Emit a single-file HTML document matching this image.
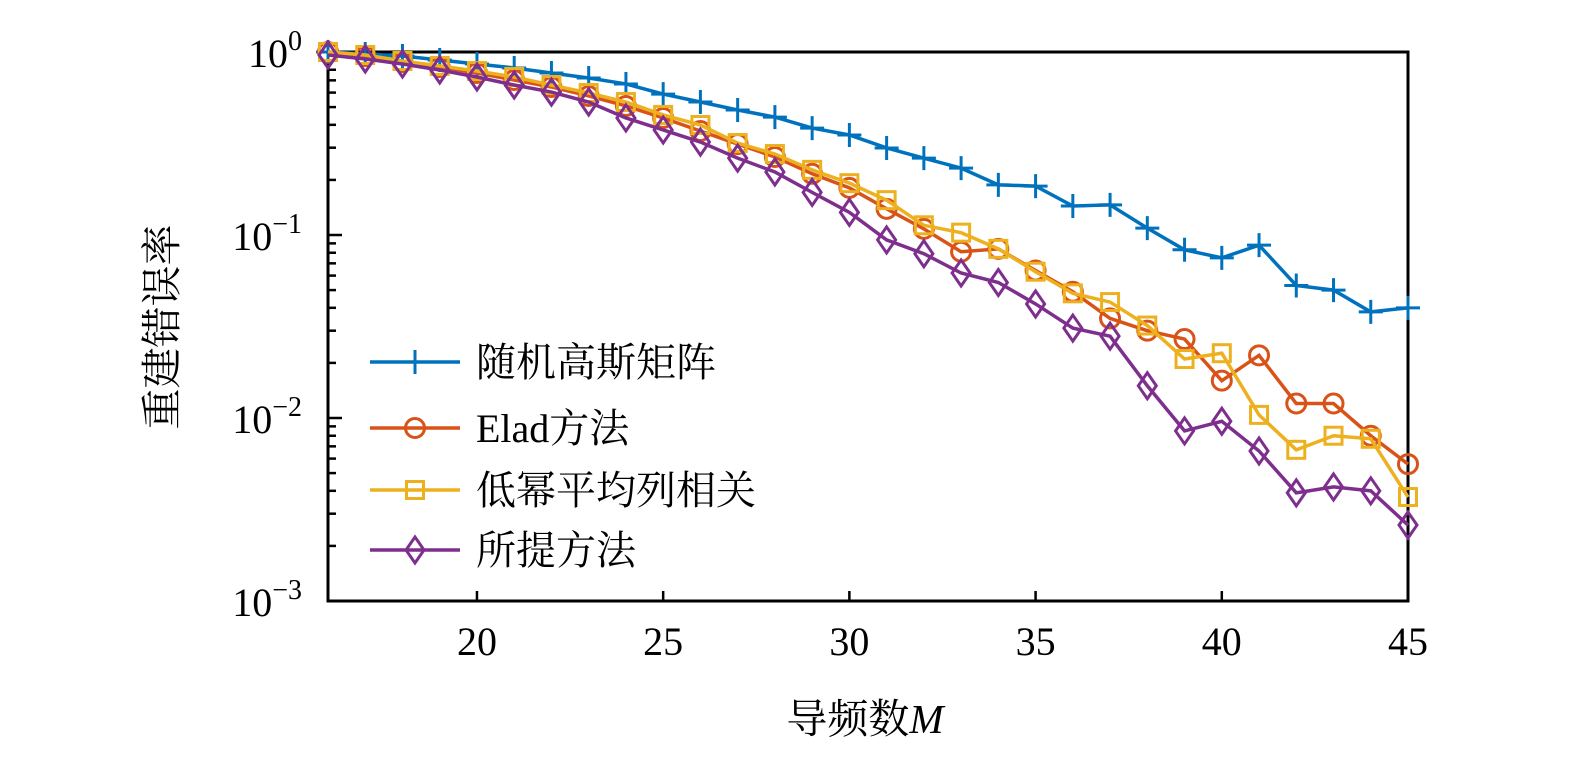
<!DOCTYPE html>
<html><head><meta charset="utf-8"><style>
html,body{margin:0;padding:0;background:#fff;width:1575px;height:768px;overflow:hidden}
svg{display:block}
text{font-family:"Liberation Serif","Noto Serif CJK SC",serif;fill:#000}
</style></head><body>
<svg id="chart" width="1575" height="768"></svg>
<script>
const categories=[16,17,18,19,20,21,22,23,24,25,26,27,28,29,30,31,32,33,34,35,36,37,38,39,40,41,42,43,44,45];
const randomGauss=[1,0.975,0.951,0.904,0.86,0.818,0.768,0.721,0.669,0.589,0.533,0.482,0.441,0.384,0.352,0.299,0.263,0.232,0.188,0.185,0.144,0.146,0.109,0.083,0.075,0.088,0.053,0.050,0.038,0.040];
const eladMethod=[1,0.951,0.882,0.828,0.768,0.703,0.644,0.575,0.507,0.436,0.37,0.314,0.267,0.216,0.181,0.139,0.108,0.081,0.084,0.064,0.049,0.035,0.030,0.027,0.016,0.022,0.012,0.012,0.008,0.0056];
const lowPowerCorr=[1,0.963,0.893,0.839,0.787,0.73,0.66,0.597,0.533,0.453,0.399,0.318,0.277,0.227,0.192,0.155,0.113,0.103,0.084,0.063,0.048,0.043,0.032,0.021,0.0226,0.0104,0.0067,0.008,0.0077,0.0037];
const proposed=[0.963,0.916,0.86,0.797,0.73,0.66,0.604,0.533,0.436,0.375,0.322,0.263,0.221,0.171,0.133,0.094,0.079,0.062,0.055,0.042,0.031,0.028,0.015,0.0085,0.0096,0.0066,0.0039,0.0042,0.0040,0.0026];
const xTicks=[20,25,30,35,40,45];
const yTickExps=[0,-1,-2,-3];
const legendLabels=["随机高斯矩阵","Elad方法","低幂平均列相关","所提方法"];

const L=328,R=1408,T=52,B=601;
const xs=v=>L+(v-16)*(R-L)/(45-16);
const ys=v=>T+(0-Math.log10(v))*(B-T)/3;
const svg=document.getElementById('chart');
const NS='http://www.w3.org/2000/svg';
function mk(tag,attrs,parent){const e=document.createElementNS(NS,tag);for(const k in attrs)e.setAttribute(k,attrs[k]);(parent||svg).appendChild(e);return e;}

const axes=mk('g',{});


xTicks.forEach(t=>{
  const x=xs(t);
  const tk=mk('path',{d:`M${x},${B}V${B-10}`,stroke:'#000','stroke-width':2.5},axes);
  
  
  const lb=mk('text',{x:x,y:655,'font-size':40,'text-anchor':'middle'},axes);
  lb.textContent=t;
  
  
});
yTickExps.forEach(e=>{
  const y=ys(Math.pow(10,e));
  const tk=mk('path',{d:`M${L},${y}H${L+14}`,stroke:'#000','stroke-width':2.5},axes);
  
  
  const lb=mk('text',{x:302,y:y+15,'font-size':40,'text-anchor':'end'},axes);
  
  
  lb.innerHTML=`10<tspan dy="-17" font-size="28">${e===0?'0':'−'+(-e)}</tspan>`;
  if(e>-3){for(let m=2;m<=9;m++){const yy=ys(m*Math.pow(10,e-1));
    const mt=mk('path',{d:`M${L},${yy}H${L+8}`,stroke:'#000','stroke-width':2.5},axes);
    
    }}
});
const frame=mk('rect',{x:L,y:T,width:R-L,height:B-T,fill:'none',stroke:'#000','stroke-width':3},axes);



const clip=mk('clipPath',{id:'cp'});mk('rect',{x:L-20,y:T-20,width:R-L+40,height:B-T+40},clip);

function marker(type,x,y,c,g){
  let e;
  if(type==='plus')e=mk('path',{d:`M${x-12},${y}H${x+12}M${x},${y-12}V${y+12}`,stroke:c,'stroke-width':3,fill:'none'},g);
  else if(type==='circle')e=mk('circle',{cx:x,cy:y,r:9.5,stroke:c,'stroke-width':3,fill:'none'},g);
  else if(type==='square')e=mk('rect',{x:x-8.5,y:y-8.5,width:17,height:17,stroke:c,'stroke-width':3,fill:'none'},g);
  else e=mk('path',{d:`M${x},${y-13}L${x+9},${y}L${x},${y+13}L${x-9},${y}Z`,stroke:c,'stroke-width':3,fill:'none'},g);
  
  
}
const series=[[randomGauss,'#0072BD','plus','series-random-gauss'],[eladMethod,'#D95319','circle','series-elad'],[lowPowerCorr,'#EDB120','square','series-low-power-corr'],[proposed,'#7E2F8E','diamond','series-proposed']];
series.forEach(([d,c,m,n])=>{
  const g=mk('g',{'clip-path':'url(#cp)'});
  
  
  const p=mk('polyline',{points:d.map((v,i)=>xs(categories[i])+','+ys(v)).join(' '),fill:'none',stroke:c,'stroke-width':3.5},g);
  
  
  d.forEach((v,i)=>marker(m,xs(categories[i]),ys(v),c,g));
});
const lg=mk('g',{});


const ly=[362,428,490,550];
series.forEach(([d,c,m],i)=>{
  const ge=mk('g',{},lg);
  
  
  mk('line',{x1:370,x2:460,y1:ly[i],y2:ly[i],stroke:c,'stroke-width':3.5},ge);
  marker(m,415,ly[i],c,ge);
  const t=mk('text',{x:476,y:ly[i]+14,'font-size':40},ge);
  t.textContent=legendLabels[i];
});
const xt=mk('text',{x:865,y:733,'font-size':41,'text-anchor':'middle'});


xt.innerHTML='导频数<tspan font-style="italic">M</tspan>';
const yt=mk('text',{x:0,y:0,'font-size':41,'text-anchor':'middle',transform:'translate(176,327) rotate(-90)'});


yt.textContent='重建错误率';
</script>
</body></html>
